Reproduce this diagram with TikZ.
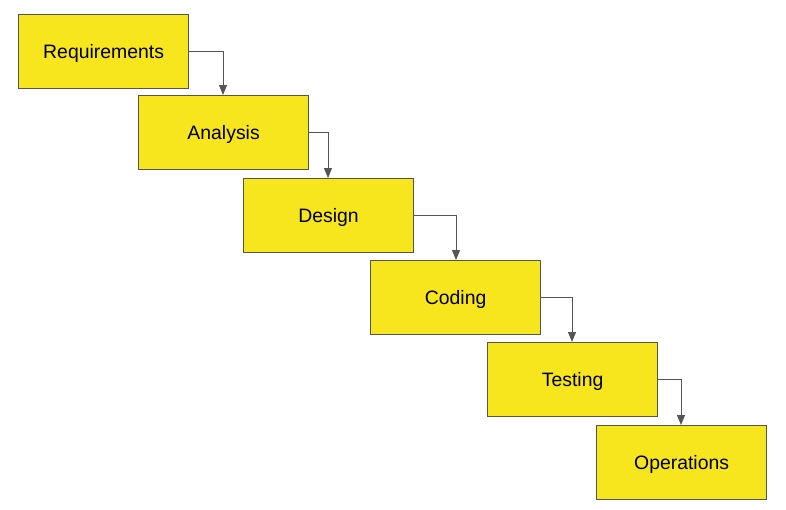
\documentclass[tikz,border=0pt]{standalone}
\usepackage{fontspec}
\setmainfont{Liberation Sans}
\usetikzlibrary{arrows.meta}
\definecolor{boxyellow}{RGB}{247,229,30}
\definecolor{edgegray}{RGB}{85,85,85}
\begin{document}
\begin{tikzpicture}[x=1pt,y=-1pt,
  stage/.style={draw=edgegray, line width=1.2pt, fill=boxyellow, minimum width=170pt, minimum height=74pt, inner sep=0pt, text height=14pt, text depth=0pt, font=\fontsize{19.4}{22}\selectfont, anchor=north west},
  flow/.style={draw=edgegray, line width=1pt, -{Triangle[length=10pt,width=8pt]}}]
\useasboundingbox (0,0) rectangle (786,509);
\node[stage] (req) at (18,14) {Requirements};
\node[stage] (ana) at (138,95) {Analysis};
\node[stage] (des) at (243,178) {Design};
\node[stage] (cod) at (370,260) {Coding};
\node[stage] (tes) at (487,342) {Testing};
\node[stage] (ope) at (596,425) {Operations};
\draw[flow] (req.east) -| (ana.north -| 223,0);
\draw[flow] (ana.east) -| (des.north -| 328,0);
\draw[flow] (des.east) -| (cod.north -| 456,0);
\draw[flow] (cod.east) -| (tes.north -| 572,0);
\draw[flow] (tes.east) -| (ope.north -| 681,0);
\end{tikzpicture}
\end{document}
